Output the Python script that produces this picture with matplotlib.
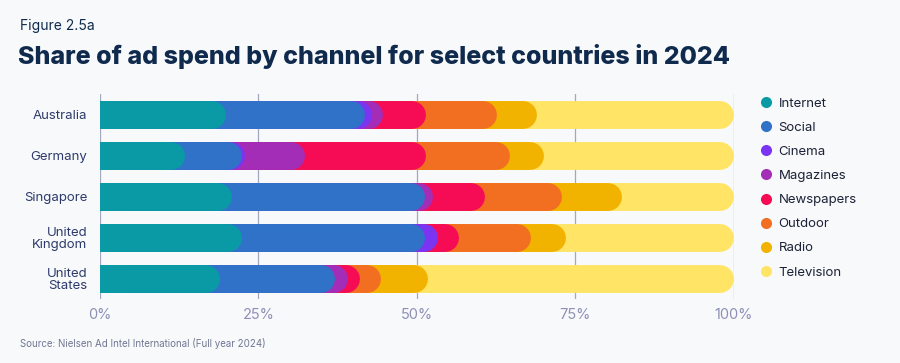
import numpy as np
import matplotlib.pyplot as plt
from matplotlib.lines import Line2D

countries = ["Australia", "Germany", "Singapore", "United\nKingdom", "United\nStates"]
channels = ["Internet", "Social", "Cinema", "Magazines", "Newspapers", "Outdoor", "Radio", "Television"]
colors = ["#0a9aa6", "#2f72c8", "#7b35f2", "#a42db8", "#f50c55", "#f26f21", "#f2b200", "#ffe466"]

# share (%) per channel, one list per channel, countries in order above
internet = [19.9, 13.4, 20.8, 22.4, 18.9]
social = [21.9, 9.0, 30.5, 28.9, 18.2]
cinema = [1.1, 0.4, 0.0, 2.0, 0.0]
magazines = [1.7, 9.5, 1.2, 0.0, 2.0]
newspapers = [6.8, 19.2, 8.2, 3.3, 1.9]
outdoor = [11.2, 13.2, 12.2, 11.4, 3.3]
radio = [6.4, 5.3, 9.4, 5.5, 7.4]
television = [31.0, 30.0, 17.7, 26.5, 48.3]

shares = np.array([internet, social, cinema, magazines, newspapers, outdoor, radio, television])
cum = np.cumsum(shares, axis=0)

plt.rcParams['font.family'] = ['Inter', 'DejaVu Sans']

fig = plt.figure(figsize=(9, 3.63), dpi=100, facecolor="#f8f9fb")
ax = fig.add_axes([0.111, 0.175, 0.7045, 0.565])
ax.set_facecolor("#f8f9fb")
ax.set_xlim(0, 100)
ax.set_ylim(4.5, -0.5)

y = np.arange(len(countries))
bar_h = 0.68

# radius of the rounded cap in data units
fig.canvas.draw()
px_per_unit = ax.transData.transform((1, 0))[0] - ax.transData.transform((0, 0))[0]
py_per_unit = abs(ax.transData.transform((0, 0))[1] - ax.transData.transform((0, 1))[1])
r_px = bar_h * py_per_unit / 2
r = r_px / px_per_unit
lw_pt = 2 * r_px * 72 / fig.dpi

# each channel is a rounded bar from 0 to its cumulative end,
# drawn from the last channel backwards so earlier ones sit on top
for i in range(len(channels) - 1, -1, -1):
    z = 3 + (len(channels) - i) * 0.1
    for k in range(len(countries)):
        if shares[i, k] <= 0:
            continue
        end = cum[i, k]
        ax.plot([r, end - r], [y[k], y[k]], color=colors[i], linewidth=lw_pt,
                solid_capstyle='round', zorder=z)
        ax.barh(y[k], 2 * r, left=0, height=bar_h, color=colors[i], zorder=z)

ax.set_xticks([0, 25, 50, 75, 100])
ax.set_xticklabels(["0%", "25%", "50%", "75%", "100%"], color="#8d90b6", fontsize=10.5)
ax.tick_params(axis='x', length=0, pad=6)
ax.set_yticks(y)
ax.set_yticklabels(countries, color="#2d3a6b", fontsize=9.5, linespacing=1.0)
ax.tick_params(axis='y', length=0, pad=9)
ax.grid(axis='x', color="#a3a7c0", linewidth=0.9, zorder=0)
ax.set_axisbelow(True)
for s in ax.spines.values():
    s.set_visible(False)

handles = [Line2D([], [], marker='o', linestyle='', markersize=8, markerfacecolor=c,
                  markeredgewidth=0) for c in colors]
fig.legend(handles, channels, loc='upper left', bbox_to_anchor=(0.829, 0.764), frameon=False,
           fontsize=9.5, labelspacing=0.9, handletextpad=0.35, handlelength=1.2,
           labelcolor="#1c2237")

fig.text(0.022, 0.928, "Figure 2.5a", fontsize=10, color="#0f2a4d", va='center')
fig.text(0.02, 0.845, "Share of ad spend by channel for select countries in 2024", fontsize=18,
         fontweight='heavy', color="#0f2a4d", va='center')
fig.text(0.022, 0.055, "Source: Nielsen Ad Intel International (Full year 2024)", fontsize=7,
         color="#6f7791", va='center')

fig.savefig("out.png", dpi=100, facecolor=fig.get_facecolor())
